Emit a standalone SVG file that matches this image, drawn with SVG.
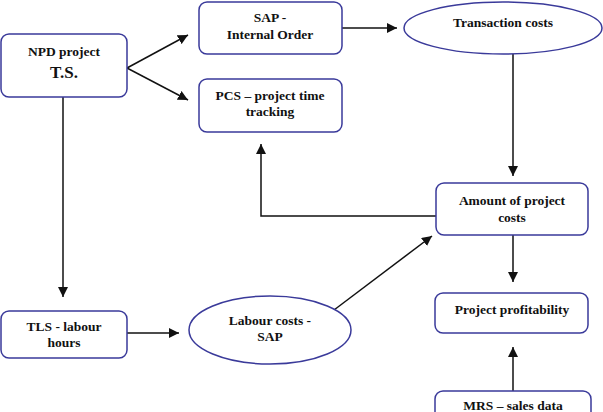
<svg xmlns="http://www.w3.org/2000/svg" width="603" height="412" viewBox="0 0 603 412">
<style>
.box{fill:#fff;stroke:#3a3a9a;stroke-width:1.5}
.t{font-family:"Liberation Serif","Times New Roman",serif;font-weight:bold;font-size:13.5px;fill:#111;text-anchor:middle}
.big{font-size:17px}
.c{fill:none;stroke:#111;stroke-width:1.5}
</style>
<defs>
<marker id="ah" viewBox="0 0 10 10" refX="10" refY="5" markerWidth="10" markerHeight="10" markerUnits="userSpaceOnUse" orient="auto">
<path d="M0,0 L10,5 L0,10 z" fill="#111"/>
</marker>
</defs>
<rect width="603" height="412" fill="#fff"/>
<g id="connectors">
<line class="c" x1="127" y1="68" x2="188" y2="35" marker-end="url(#ah)"/>
<line class="c" x1="127" y1="68" x2="188" y2="100" marker-end="url(#ah)"/>
<line class="c" x1="342" y1="28" x2="397" y2="28" marker-end="url(#ah)"/>
<line class="c" x1="513" y1="54" x2="513" y2="176" marker-end="url(#ah)"/>
<polyline class="c" points="436,216 261,216 261,144" marker-end="url(#ah)"/>
<line class="c" x1="513" y1="235" x2="513" y2="282" marker-end="url(#ah)"/>
<line class="c" x1="513" y1="391" x2="513" y2="347" marker-end="url(#ah)"/>
<line class="c" x1="63" y1="97" x2="63" y2="297" marker-end="url(#ah)"/>
<line class="c" x1="127" y1="333" x2="179" y2="333" marker-end="url(#ah)"/>
<line class="c" x1="334" y1="310" x2="432" y2="236" marker-end="url(#ah)"/>
</g>
<g id="npd">
<rect class="box" x="1" y="34" width="126" height="63" rx="8"/>
<text class="t" x="64" y="56">NPD project</text>
<text class="t big" x="64" y="78">T.S.</text>
</g>
<g id="sap">
<rect class="box" x="199" y="2" width="143" height="52" rx="8"/>
<text class="t" x="270" y="22">SAP -</text>
<text class="t" x="270" y="39">Internal Order</text>
</g>
<g id="pcs">
<rect class="box" x="199" y="79" width="143" height="53" rx="8"/>
<text class="t" x="270" y="100">PCS – project time</text>
<text class="t" x="270" y="116">tracking</text>
</g>
<g id="transaction">
<ellipse class="box" cx="503" cy="28" rx="99" ry="26"/>
<text class="t" x="503" y="27">Transaction costs</text>
</g>
<g id="amount">
<rect class="box" x="436" y="183" width="152" height="52" rx="8"/>
<text class="t" x="512" y="205">Amount of project</text>
<text class="t" x="512" y="222">costs</text>
</g>
<g id="profitability">
<rect class="box" x="435" y="293" width="153" height="40" rx="8"/>
<text class="t" x="512" y="314">Project profitability</text>
</g>
<g id="mrs">
<rect class="box" x="435" y="391" width="156" height="40" rx="8"/>
<text class="t" x="513" y="410">MRS – sales data</text>
</g>
<g id="tls">
<rect class="box" x="1" y="311" width="126" height="47" rx="8"/>
<text class="t" x="64" y="331">TLS - labour</text>
<text class="t" x="64" y="347">hours</text>
</g>
<g id="labour">
<ellipse class="box" cx="270" cy="330" rx="81" ry="34"/>
<text class="t" x="270" y="325">Labour costs -</text>
<text class="t" x="270" y="341">SAP</text>
</g>
</svg>
